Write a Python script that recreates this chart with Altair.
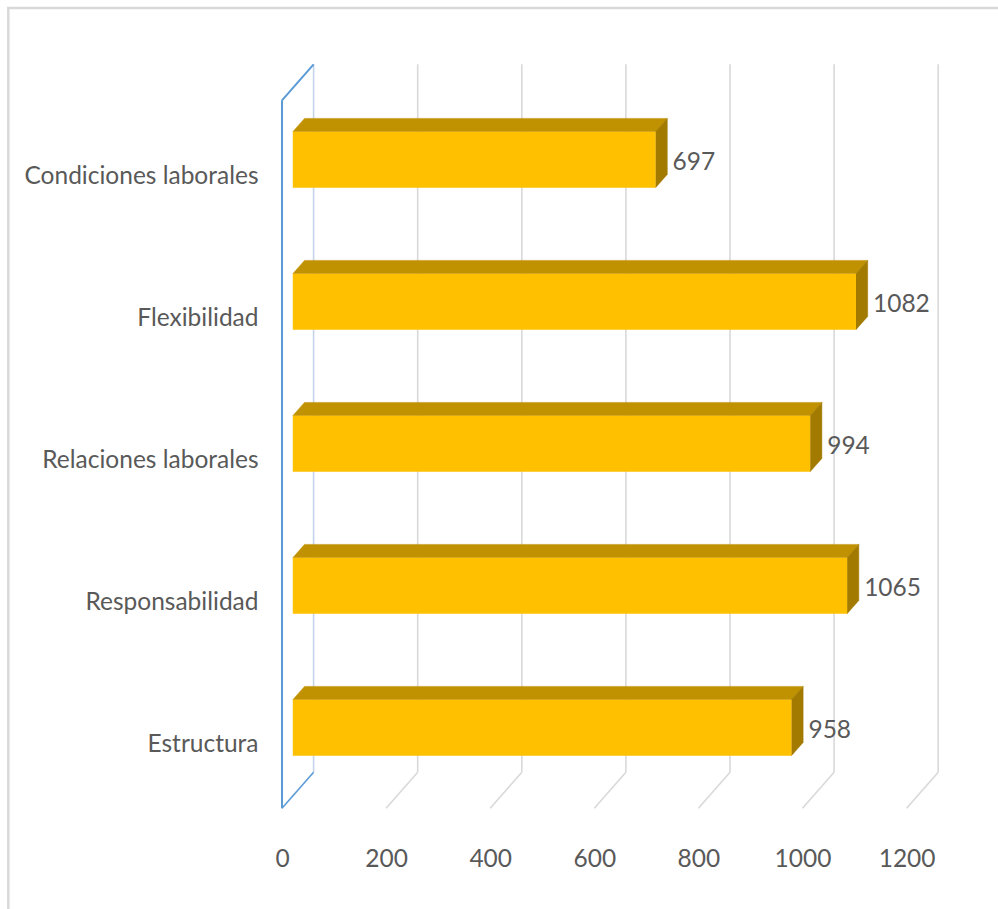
import json
import altair as alt
import pandas as pd

# ---- data -------------------------------------------------------------
categories = [
    "Condiciones laborales",
    "Flexibilidad",
    "Relaciones laborales",
    "Responsabilidad",
    "Estructura",
]
values = [697, 1082, 994, 1065, 958]
tick_values = [0, 200, 400, 600, 800, 1000, 1200]

# ---- layout -----------------------------------------------------------
W, H = 663, 750            # plot area (front wall plane starts at its left edge)
PAD = {"left": 282, "top": 60, "right": 53, "bottom": 99}
PX_PER_UNIT = 0.5205       # horizontal pixels per value unit
ROW_PX = 142               # vertical pixels between category rows
ROW0 = 99.7                # first row centre, pixels below plot top


def ux(px):
    return px / PX_PER_UNIT


def ry(px):
    return px / ROW_PX


# pseudo-3D geometry (pixels converted to scale units)
WALL_DX, WALL_DY = ux(31.6), ry(36.0)     # depth of the whole wall
BAR_DX = ux(10.8)                          # bar front face sits inside the wall
BAR_DEPTH_X, BAR_DEPTH_Y = ux(11.7), ry(13.3)
HALF = ry(28)                              # half height of a bar front face
WALL_TOP = ry(40.3 - ROW0)                 # front top corner of the wall
WALL_BOTTOM = ry(748.3 - ROW0)             # front bottom corner of the wall

XS = alt.Scale(domain=[0, W / PX_PER_UNIT], nice=False, zero=False)
YS = alt.Scale(domain=[(H - ROW0) / ROW_PX, -ROW0 / ROW_PX], nice=False, zero=False)

FONT = "Lato"
FS = 24.5
TEXT = "#595959"

label_expr = json.dumps(categories) + "[datum.value]"

XAXIS = alt.Axis(
    values=tick_values, format="d", title=None, domain=False, ticks=False,
    tickSize=0, grid=False, labelPadding=37, labelFlush=False,
    labelFont=FONT, labelFontSize=FS, labelColor=TEXT,
)
YAXIS = alt.Axis(
    values=list(range(len(categories))), labelExpr=label_expr, title=None,
    domain=False, ticks=False, tickSize=0, grid=False, labelPadding=24,
    labelOffset=17, labelOverlap=False, labelFont=FONT, labelFontSize=FS,
    labelColor=TEXT, labelLimit=400,
)


def X(field):
    return alt.X(field, type="quantitative", scale=XS, axis=XAXIS)


def Y(field):
    return alt.Y(field, type="quantitative", scale=YS, axis=YAXIS)


ticks_df = pd.DataFrame({"t": tick_values})
bars_df = pd.DataFrame({"category": categories, "value": values,
                        "row": list(range(len(categories)))})

# top and side faces of each bar as parallelograms
top_pts, side_pts = [], []
for i, (c, v) in enumerate(zip(categories, values)):
    ft, fb = i - HALF, i + HALF
    x0, x1 = BAR_DX, v + BAR_DX
    for x, ya, yb in [(x0, ft, ft), (x0 + BAR_DEPTH_X, ft - BAR_DEPTH_Y, ft),
                      (x1, ft - BAR_DEPTH_Y, ft),
                      (x1 + BAR_DEPTH_X, ft - BAR_DEPTH_Y, ft - BAR_DEPTH_Y)]:
        top_pts.append({"category": c, "x": x, "ya": ya, "yb": yb})
    for x, ya, yb in [(x1, ft, fb),
                      (x1 + BAR_DEPTH_X, ft - BAR_DEPTH_Y, fb - BAR_DEPTH_Y)]:
        side_pts.append({"category": c, "x": x, "ya": ya, "yb": yb})
top_df = pd.DataFrame(top_pts)
side_df = pd.DataFrame(side_pts)

GRID = "#D9D9D9"
BLUE = "#5B9BD5"
grid_color = alt.condition("datum.t == 0", alt.value("#C3D4EA"), alt.value(GRID))
floor_color = alt.condition("datum.t == 0", alt.value(BLUE), alt.value(GRID))

# back wall vertical gridlines
back_grid = alt.Chart(ticks_df).transform_calculate(
    xb=f"datum.t + {WALL_DX}", ytop=f"{WALL_TOP - WALL_DY}",
    ybot=f"{WALL_BOTTOM - WALL_DY}",
).mark_rule(strokeWidth=1.6).encode(
    x=X("xb"), y=Y("ytop"), y2="ybot:Q", color=grid_color,
)

# floor diagonals from the back wall to the front edge
floor_grid = alt.Chart(ticks_df).transform_calculate(
    xb=f"datum.t + {WALL_DX}", yb=f"{WALL_BOTTOM - WALL_DY}", yf=f"{WALL_BOTTOM}",
).mark_rule(strokeWidth=1.6).encode(
    x=X("xb"), x2="t:Q", y=Y("yb"), y2="yf:Q", color=floor_color,
)

# front edge of the value wall, vertical part and top diagonal
edge_df = pd.DataFrame({"t": [0]})
front_edge = alt.Chart(edge_df).transform_calculate(
    yt=f"{WALL_TOP}", yb=f"{WALL_BOTTOM}",
).mark_rule(strokeWidth=2, color=BLUE).encode(
    x=X("t"), y=Y("yt"), y2="yb:Q",
)
top_edge = alt.Chart(edge_df).transform_calculate(
    xb=f"{WALL_DX}", yt=f"{WALL_TOP}", ybk=f"{WALL_TOP - WALL_DY}",
).mark_rule(strokeWidth=2, color=BLUE).encode(
    x=X("t"), x2="xb:Q", y=Y("yt"), y2="ybk:Q",
)

bar_top = alt.Chart(top_df).mark_area(
    orient="vertical", color="#C09100", stroke="#C09100", strokeWidth=0.5,
).encode(x=X("x"), y=Y("ya"), y2="yb:Q", detail="category:N")

bar_side = alt.Chart(side_df).mark_area(
    orient="vertical", color="#A27A00", stroke="#A27A00", strokeWidth=0.5,
).encode(x=X("x"), y=Y("ya"), y2="yb:Q", detail="category:N")

bar_front = alt.Chart(bars_df).transform_calculate(
    x0=f"{BAR_DX}", x1=f"datum.value + {BAR_DX}",
    y0=f"datum.row - {HALF}", y1=f"datum.row + {HALF}",
).mark_rect(color="#FFC000").encode(
    x=X("x0"), x2="x1:Q", y=Y("y0"), y2="y1:Q",
)

value_labels = alt.Chart(bars_df).transform_calculate(
    xl=f"datum.value + {BAR_DX}",
).mark_text(
    align="left", baseline="middle", dx=17, dy=3, font=FONT, fontSize=FS,
    color=TEXT,
).encode(x=X("xl"), y=Y("row"), text="value:Q")

# light frame around the chart area
frame = alt.Chart(edge_df).mark_rect(
    fillOpacity=0, stroke="#D9D9D9", strokeWidth=2.5,
).encode(
    x=alt.value(8.3 - PAD["left"]), x2=alt.value(W + PAD["right"] + 20),
    y=alt.value(8 - PAD["top"]), y2=alt.value(H + PAD["bottom"] + 20),
)

chart = alt.layer(
    frame, back_grid, floor_grid, front_edge, top_edge,
    bar_top, bar_side, bar_front, value_labels,
).properties(
    width=W, height=H,
    autosize=alt.AutoSizeParams(type="none"),
    padding=PAD,
    background="white",
).configure_view(stroke=None)

chart.save("out.html", embed_options={"renderer": "svg", "actions": False})
